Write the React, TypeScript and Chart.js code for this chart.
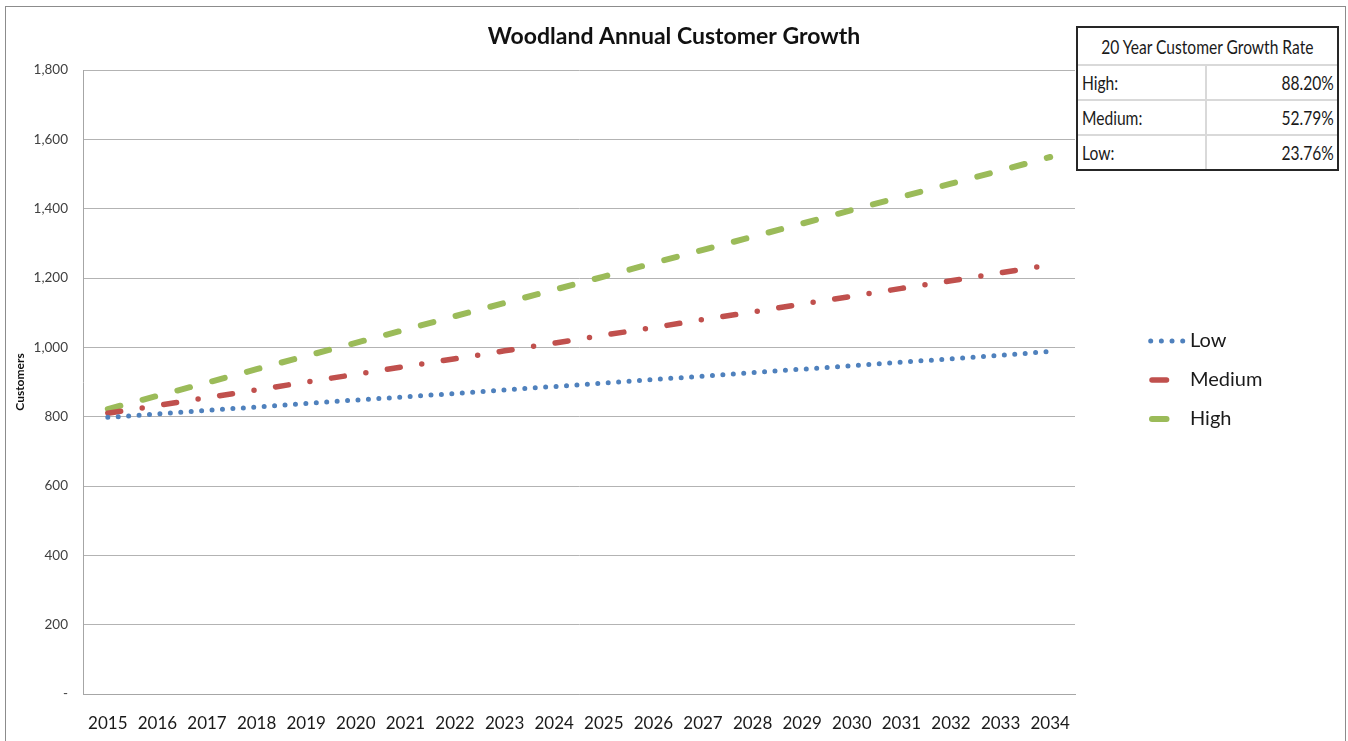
import React, { useEffect, useRef } from "react";
import { Chart, registerables } from "chart.js";

Chart.register(...registerables);

const years = [
  "2015", "2016", "2017", "2018", "2019", "2020", "2021", "2022", "2023", "2024",
  "2025", "2026", "2027", "2028", "2029", "2030", "2031", "2032", "2033", "2034",
];
const lowValues = [798, 808, 818, 828, 838, 848, 857, 867, 877, 887, 897, 907, 917, 927, 937, 947, 957, 967, 977, 988];
const mediumValues = [810, 832, 855, 877, 900, 922, 945, 967, 990, 1012, 1035, 1057, 1080, 1102, 1125, 1147, 1170, 1192, 1215, 1238];
const highValues = [822, 860, 898, 937, 975, 1013, 1051, 1090, 1128, 1166, 1204, 1243, 1281, 1319, 1357, 1396, 1434, 1472, 1510, 1549];
const yMin = 0;
const yMax = 1800;
const yStep = 200;
const chartTitle = "Woodland Annual Customer Growth";
const yAxisTitle = "Customers";
const seriesNames = ["Low", "Medium", "High"];
const tableTitle = "20 Year Customer Growth Rate";
const rateLabels = ["High:", "Medium:", "Low:"];
const rateValues = ["88.20%", "52.79%", "23.76%"];

const FONT = "Lato, 'Noto Sans', sans-serif";

const extrasPlugin = {
  id: "extras",
  afterDraw(chart: any) {
    const ctx = chart.ctx as CanvasRenderingContext2D;
    ctx.save();
    // outer frame
    ctx.strokeStyle = "#8c8c8c";
    ctx.lineWidth = 1;
    ctx.strokeRect(5.5, 6.5, 1340, 800);
    // title
    ctx.fillStyle = "#111";
    ctx.font = `bold 23px ${FONT}`;
    ctx.textAlign = "center";
    ctx.textBaseline = "middle";
    ctx.fillText(chartTitle, 674, 37);
    // legend
    const rows = [341, 380, 419];
    chart.data.datasets.forEach((ds: any, i: number) => {
      const y = rows[i];
      ctx.save();
      ctx.strokeStyle = ds.borderColor;
      ctx.lineWidth = ds.borderWidth;
      ctx.lineCap = "round";
      ctx.beginPath();
      if (i === 0) {
        ctx.setLineDash([0, 10.67]);
        ctx.moveTo(1150.7, y);
        ctx.lineTo(1184, y);
      } else {
        ctx.setLineDash([]);
        ctx.moveTo(1152, y);
        ctx.lineTo(1166.5, y);
      }
      ctx.stroke();
      ctx.restore();
      ctx.fillStyle = "#1a1a1a";
      ctx.font = `20px ${FONT}`;
      ctx.textAlign = "left";
      ctx.textBaseline = "middle";
      ctx.fillText(ds.label, 1190, y);
    });
    ctx.restore();
  },
};

function ChartCanvas() {
  const ref = useRef<HTMLCanvasElement | null>(null);
  useEffect(() => {
    if (!ref.current) return;
    const chart = new Chart(ref.current, {
      type: "line",
      data: {
        labels: years,
        datasets: [
          {
            label: seriesNames[0],
            data: lowValues,
            borderColor: "#4F81BD",
            borderWidth: 5,
            borderDash: [0, 10.45],
            borderCapStyle: "round",
            pointRadius: 0,
            tension: 0,
            fill: false,
          },
          {
            label: seriesNames[1],
            data: mediumValues,
            borderColor: "#C0504D",
            borderWidth: 5.5,
            borderDash: [13, 21.8, 0, 21.8],
            borderCapStyle: "round",
            pointRadius: 0,
            tension: 0,
            fill: false,
          },
          {
            label: seriesNames[2],
            data: highValues,
            borderColor: "#9BBB59",
            borderWidth: 6,
            borderDash: [13, 23],
            borderCapStyle: "round",
            pointRadius: 0,
            tension: 0,
            fill: false,
          },
        ],
      },
      options: {
        responsive: false,
        animation: false,
        devicePixelRatio: 1,
        layout: { padding: { left: 0, right: 273, top: 70, bottom: 0 } },
        plugins: {
          legend: { display: false },
          title: { display: false },
          tooltip: { enabled: false },
        },
        scales: {
          x: {
            type: "category",
            offset: true,
            grid: { display: false, drawTicks: false },
            border: { display: true, color: "#a6a6a6", width: 1 },
            ticks: {
              color: "#1a1a1a",
              font: { family: FONT, size: 17 },
              padding: 19,
              maxRotation: 0,
              autoSkip: false,
            },
            afterFit: (scale: any) => {
              scale.height = 47;
            },
          },
          y: {
            min: yMin,
            max: yMax,
            grid: { color: "#b3b3b3", lineWidth: 1, drawTicks: false },
            border: { display: true, color: "#a6a6a6", width: 1 },
            ticks: {
              stepSize: yStep,
              color: "#404040",
              font: { family: FONT, size: 13.5 },
              padding: 15,
              callback: (v: any) => (Number(v) === 0 ? "-" : Number(v).toLocaleString("en-US")),
            },
            title: {
              display: true,
              text: yAxisTitle,
              color: "#111",
              font: { family: FONT, size: 12, weight: "bold" },
              padding: { top: 13, bottom: 0 },
            },
            afterFit: (scale: any) => {
              scale.width = 83;
            },
          },
        },
      },
      plugins: [extrasPlugin],
    });
    return () => chart.destroy();
  }, []);
  return (
    <canvas
      ref={ref}
      width={1348}
      height={741}
      style={{ position: "absolute", left: 0, top: 0, width: 1348, height: 741 }}
    />
  );
}

function Narrow({ text, origin }: { text: string; origin: string }) {
  return (
    <span
      style={{
        display: "inline-block",
        transform: "scaleX(0.82)",
        transformOrigin: origin,
        whiteSpace: "nowrap",
      }}
    >
      {text}
    </span>
  );
}

function RateTable() {
  const rowStyle: React.CSSProperties = {
    display: "flex",
    height: 33,
    borderTop: "2px solid #d9d9d9",
    boxSizing: "content-box",
  };
  return (
    <div
      style={{
        position: "absolute",
        left: 1076,
        top: 26,
        width: 259,
        border: "2px solid #262626",
        background: "#fff",
        fontFamily: FONT,
        fontSize: 19,
        color: "#1a1a1a",
        boxSizing: "content-box",
      }}
    >
      <div style={{ height: 36, display: "flex", alignItems: "center", justifyContent: "center", overflow: "visible" }}>
        <Narrow text={tableTitle} origin="center" />
      </div>
      {rateLabels.map((lab, i) => (
        <div key={lab} style={rowStyle}>
          <div
            style={{
              width: 129,
              borderRight: "2px solid #d9d9d9",
              display: "flex",
              alignItems: "center",
              paddingLeft: 4,
              boxSizing: "border-box",
            }}
          >
            <Narrow text={lab} origin="left" />
          </div>
          <div
            style={{
              flex: 1,
              display: "flex",
              alignItems: "center",
              justifyContent: "flex-end",
              paddingRight: 3,
              boxSizing: "border-box",
            }}
          >
            <Narrow text={rateValues[i]} origin="right" />
          </div>
        </div>
      ))}
    </div>
  );
}

export default function App() {
  return (
    <div style={{ position: "absolute", left: 0, top: 0, width: 1348, height: 741, overflow: "hidden", background: "#fff" }}>
      <ChartCanvas />
      <RateTable />
    </div>
  );
}
